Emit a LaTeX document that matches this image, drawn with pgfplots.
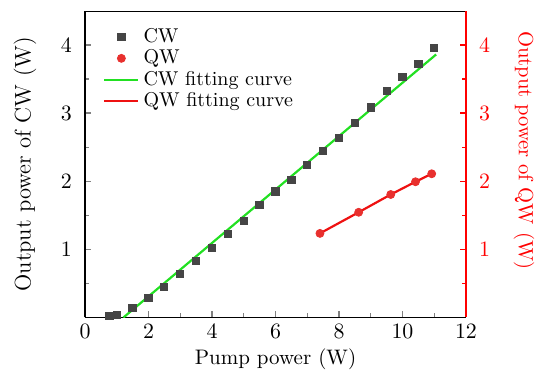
\documentclass[border=0pt]{standalone}
\usepackage{pgfplots}
\pgfplotsset{compat=1.18}
\definecolor{cwgray}{HTML}{454545}
\definecolor{qwred}{HTML}{E8302E}
\definecolor{fitgreen}{HTML}{22E022}
\definecolor{fitred}{HTML}{EE1111}
\begin{document}
\begin{tikzpicture}
\useasboundingbox (-42.5pt,-33.75pt) rectangle (226pt,158.75pt);
\pgfplotsset{every axis/.append style={
  scale only axis, width=190.5pt, height=153.25pt,
  at={(0,0)}, anchor=south west,
  xmin=0, xmax=12, ymin=0, ymax=4.5,
  tick label style={font=\fontsize{11}{12}\selectfont},
  axis line style={line width=0.8pt},
  major tick length=3pt, minor tick length=2pt,
  tick style={line width=0.7pt},
}}
\begin{axis}[
  axis x line*=bottom, axis y line*=left,
  xtick={0,2,...,12}, minor xtick={1,3,...,11},
  ytick={1,2,3,4}, minor ytick={0.5,1.5,2.5,3.5},
  tick align=inside,
  yticklabel style={xshift=-3pt},
  xlabel={Pump power (W)}, ylabel={Output power of CW (W)},
  xlabel style={font=\fontsize{10.5}{12}\selectfont, at={(axis description cs:0.5,0)}, anchor=center, yshift=-21pt},
  ylabel style={font=\fontsize{11.3}{12}\selectfont, at={(axis description cs:0,0.5)}, anchor=center, yshift=30pt},
  legend style={draw=none, fill=none, at={(0.031,0.971)}, anchor=north west,
    font=\fontsize{10}{11}\selectfont, row sep=-1.8pt},
  legend cell align=left,
]
\addplot[only marks, mark=square*, mark size=1.8pt, color=cwgray] coordinates {
(0.77,0.025) (1.0,0.034) (1.49,0.138) (2.0,0.285) (2.49,0.453) (2.99,0.64)
(3.5,0.827) (4.0,1.023) (4.49,1.23) (5.0,1.417) (5.49,1.653) (6.0,1.85)
(6.5,2.017) (7.0,2.244) (7.5,2.45) (8.0,2.642) (8.5,2.854) (9.0,3.085)
(9.5,3.331) (10.0,3.528) (10.5,3.72) (11.0,3.956)};
\addlegendentry{CW}
\addplot[only marks, mark=*, mark size=2pt, color=qwred] coordinates {
(7.40,1.235) (8.62,1.545) (9.63,1.806) (10.41,1.993) (10.92,2.11)};
\addlegendentry{QW}
\addplot[line width=1.1pt, color=fitgreen] coordinates {(1.21,0) (11.06,3.862)};
\addlegendentry{CW fitting curve}
\addplot[line width=1.1pt, color=fitred] coordinates {(7.40,1.235) (8.62,1.545) (9.63,1.806) (10.41,1.993) (10.92,2.11)};
\addlegendentry{QW fitting curve}
\draw[line width=0.8pt] (rel axis cs:0,1) -- (rel axis cs:1,1);
\end{axis}
\begin{axis}[
  axis x line=none, axis y line*=right,
  ytick={1,2,3,4}, minor ytick={0.5,1.5,2.5,3.5},
  tick align=inside,
  y axis line style={color=red},
  ytick style={color=red},
  yticklabel style={color=red, xshift=3pt},
  ylabel={Output power of QW (W)},
  ylabel style={color=red, font=\fontsize{10.3}{12}\selectfont, rotate=180, at={(axis description cs:1,0.546)}, anchor=center, yshift=29pt},
]
\addplot[draw=none] coordinates {(0,0)};
\end{axis}
\end{tikzpicture}
\end{document}
